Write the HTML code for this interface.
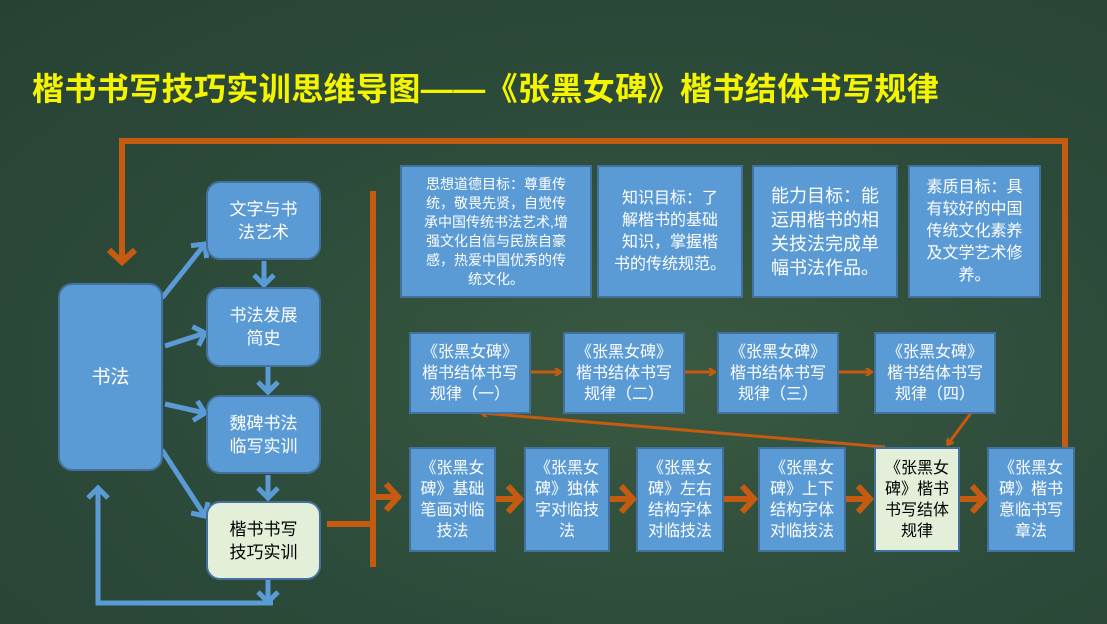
<!DOCTYPE html>
<html><head><meta charset="utf-8"><style>
body{margin:0;width:1107px;height:624px;overflow:hidden;background:#2c4a38;font-family:"Liberation Sans","Noto Sans CJK SC",sans-serif;position:relative}
.bg{position:absolute;inset:0;background:radial-gradient(ellipse at 60% 60%,#3a5a42 0%,#2d4b3a 50%,#264233 100%)}
.t{position:absolute;left:32px;top:64px;color:#f5f500;font-size:32px;font-weight:bold;letter-spacing:0.4px;white-space:nowrap}
.b{position:absolute;box-sizing:border-box;background:#5b9bd5;border:2px solid #41719c;color:#fff;display:flex;align-items:center;justify-content:center;text-align:center;font-size:16px;line-height:21px;white-space:nowrap}
.r{border-radius:14px;font-size:17px;line-height:23px}
.l{background:#e4efd9;color:#000}
svg{position:absolute;left:0;top:0}
</style></head><body>
<div class="bg"></div>
<div class="t">楷书书写技巧实训思维导图——《张黑女碑》楷书结体书写规律</div>
<svg width="1107" height="624">
<defs>
<marker id="o" markerWidth="8" markerHeight="8" refX="6" refY="4" orient="auto" markerUnits="userSpaceOnUse"><path d="M1,0 L7,4 L1,8" fill="none" stroke="#c55a11" stroke-width="2.5"/></marker>
<marker id="ob" markerWidth="30" markerHeight="30" refX="15" refY="15" orient="auto" markerUnits="userSpaceOnUse"><path d="M3,2 L15,15 L3,28" fill="none" stroke="#c55a11" stroke-width="6"/></marker>
<marker id="bl" markerWidth="24" markerHeight="24" refX="12" refY="12" orient="auto" markerUnits="userSpaceOnUse"><path d="M2,2 L12,12 L2,22" fill="none" stroke="#5b9bd5" stroke-width="5"/></marker>
</defs>
<g stroke="#c55a11" stroke-width="6" fill="none">
<polyline points="1065,448 1065,141 122,141 122,262" marker-end="url(#ob)"/>
<line x1="373" y1="191" x2="373" y2="567"/>
<line x1="327" y1="524" x2="373" y2="524"/>
<line x1="373" y1="497" x2="398" y2="497" marker-end="url(#ob)"/>
<line x1="496" y1="499" x2="520" y2="499" marker-end="url(#ob)"/>
<line x1="610" y1="499" x2="633" y2="499" marker-end="url(#ob)"/>
<line x1="724" y1="499" x2="754" y2="499" marker-end="url(#ob)"/>
<line x1="846" y1="499" x2="870" y2="499" marker-end="url(#ob)"/>
<line x1="960" y1="499" x2="984" y2="499" marker-end="url(#ob)"/>
</g>
<g stroke="#c55a11" stroke-width="3" fill="none">
<line x1="531" y1="372" x2="560" y2="372" marker-end="url(#o)"/>
<line x1="685" y1="372" x2="714" y2="372" marker-end="url(#o)"/>
<line x1="839" y1="372" x2="871" y2="372" marker-end="url(#o)"/>
<line x1="971" y1="413" x2="948" y2="444" marker-end="url(#o)"/>
<line x1="885" y1="447" x2="482" y2="413" marker-end="url(#o)"/>
</g>
<g stroke="#5b9bd5" stroke-width="5" fill="none">
<line x1="162" y1="298" x2="205" y2="244" marker-end="url(#bl)"/>
<line x1="165" y1="346" x2="205" y2="333" marker-end="url(#bl)"/>
<line x1="165" y1="404" x2="205" y2="413" marker-end="url(#bl)"/>
<line x1="162" y1="450" x2="205" y2="516" marker-end="url(#bl)"/>
<line x1="264" y1="261" x2="264" y2="285" marker-end="url(#bl)"/>
<line x1="268" y1="367" x2="268" y2="392" marker-end="url(#bl)"/>
<line x1="268" y1="475" x2="268" y2="498" marker-end="url(#bl)"/>
<line x1="268" y1="580" x2="268" y2="602" marker-end="url(#bl)"/>
<polyline points="273,603 98,603 98,488" marker-end="url(#bl)"/>
</g>
</svg>
<div class="b r" style="left:58px;top:283px;width:105px;height:188px;font-size:19px">书法</div>
<div class="b r" style="left:206px;top:181px;width:115px;height:79px">文字与书<br>法艺术</div>
<div class="b r" style="left:206px;top:287px;width:115px;height:80px">书法发展<br>简史</div>
<div class="b r" style="left:206px;top:395px;width:115px;height:79px">魏碑书法<br>临写实训</div>
<div class="b r l" style="left:206px;top:501px;width:115px;height:79px">楷书书写<br>技巧实训</div>
<div class="b" style="left:400px;top:165px;width:192px;height:133px;font-size:14px;line-height:19px">思想道德目标：尊重传<br>统，敬畏先贤，自觉传<br>承中国传统书法艺术,增<br>强文化自信与民族自豪<br>感，热爱中国优秀的传<br>统文化。</div>
<div class="b" style="left:597px;top:165px;width:146px;height:133px;font-size:16px;line-height:22px">知识目标：了<br>解楷书的基础<br>知识，掌握楷<br>书的传统规范。</div>
<div class="b" style="left:752px;top:165px;width:146px;height:133px;font-size:18px;line-height:24px">能力目标：能<br>运用楷书的相<br>关技法完成单<br>幅书法作品。</div>
<div class="b" style="left:908px;top:165px;width:133px;height:133px;font-size:16px;line-height:22px">素质目标：具<br>有较好的中国<br>传统文化素养<br>及文学艺术修<br>养。</div>
<div class="b" style="left:409px;top:332px;width:122px;height:82px">《张黑女碑》<br>楷书结体书写<br>规律（一）</div>
<div class="b" style="left:563px;top:332px;width:122px;height:82px">《张黑女碑》<br>楷书结体书写<br>规律（二）</div>
<div class="b" style="left:717px;top:332px;width:122px;height:82px">《张黑女碑》<br>楷书结体书写<br>规律（三）</div>
<div class="b" style="left:874px;top:332px;width:122px;height:82px">《张黑女碑》<br>楷书结体书写<br>规律（四）</div>
<div class="b" style="left:409px;top:447px;width:87px;height:105px">《张黑女<br>碑》基础<br>笔画对临<br>技法</div>
<div class="b" style="left:524px;top:447px;width:86px;height:105px">《张黑女<br>碑》独体<br>字对临技<br>法</div>
<div class="b" style="left:636px;top:447px;width:88px;height:105px">《张黑女<br>碑》左右<br>结构字体<br>对临技法</div>
<div class="b" style="left:758px;top:447px;width:88px;height:105px">《张黑女<br>碑》上下<br>结构字体<br>对临技法</div>
<div class="b l" style="left:874px;top:447px;width:86px;height:105px">《张黑女<br>碑》楷书<br>书写结体<br>规律</div>
<div class="b" style="left:987px;top:447px;width:88px;height:105px">《张黑女<br>碑》楷书<br>意临书写<br>章法</div>
</body></html>
